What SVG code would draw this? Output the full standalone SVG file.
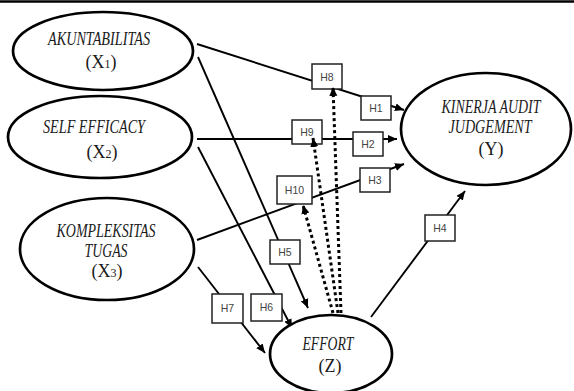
<svg xmlns="http://www.w3.org/2000/svg" width="574" height="391" viewBox="0 0 574 391">
<defs>
<style>
.node ellipse{fill:#fff;stroke:#000;stroke-width:2.7}
.nt{font-family:"Liberation Serif","Times New Roman",serif;font-style:italic;font-size:18px;fill:#1a1a1a;text-anchor:middle}
.nv{font-family:"Liberation Serif","Times New Roman",serif;font-size:18px;fill:#1a1a1a;text-anchor:middle}
.sub{font-size:12px}
.c{stroke:#000;stroke-width:1.9;fill:none;marker-end:url(#ah)}
.d{stroke:#000;stroke-width:3;stroke-dasharray:3 3;fill:none;marker-end:url(#ah)}
.lb rect{fill:#fff;stroke:#222;stroke-width:1.5}
.lb text{font-family:"Liberation Sans",Arial,sans-serif;font-size:10.5px;fill:#444;text-anchor:middle}
</style>
<marker id="ah" markerUnits="userSpaceOnUse" markerWidth="10" markerHeight="9" refX="9" refY="4" orient="auto">
<polygon points="0,0 9,4 0,8" fill="#000"/>
</marker>
</defs>
<rect x="0" y="0" width="574" height="391" fill="#fff"/>
<line x1="0" y1="1.5" x2="574" y2="1.5" stroke="#000" stroke-width="2.5"/>

<g id="connectors">
<line class="c" x1="197" y1="44" x2="404" y2="110"/>
<line class="c" x1="197" y1="139" x2="397" y2="139"/>
<line class="c" x1="197" y1="240" x2="404" y2="164"/>
<line class="c" x1="198" y1="57" x2="308" y2="308"/>
<line class="c" x1="198" y1="147" x2="292" y2="328"/>
<line class="c" x1="198" y1="267" x2="265" y2="353"/>
<line class="c" x1="371" y1="317" x2="465" y2="191"/>
</g>

<g id="labels" class="lb">
<g id="h8"><rect x="312" y="64" width="30" height="25"/><text x="327" y="81">H8</text></g>
<g id="h1"><rect x="361" y="96" width="30" height="24"/><text x="376" y="112">H1</text></g>
<g id="h9"><rect x="292" y="120" width="30" height="24"/><text x="307" y="136">H9</text></g>
<g id="h2"><rect x="353" y="132" width="30" height="24"/><text x="368" y="148">H2</text></g>
<g id="h3"><rect x="360" y="168" width="30" height="24"/><text x="375" y="184">H3</text></g>
<g id="h10"><rect x="277" y="176" width="35" height="28"/><text x="294.5" y="194">H10</text></g>
<g id="h5"><rect x="270" y="240" width="30" height="24"/><text x="285" y="256">H5</text></g>
<g id="h7"><rect x="212" y="294" width="31" height="29"/><text x="227.5" y="312">H7</text></g>
<g id="h6"><rect x="251" y="294" width="31" height="27"/><text x="266.5" y="311">H6</text></g>
<g id="h4"><rect x="425" y="215" width="30" height="26"/><text x="440" y="232">H4</text></g>
</g>

<g id="connectors-moderation">
<line class="d" x1="341" y1="313" x2="333" y2="87"/>
<line class="d" x1="338" y1="313" x2="313" y2="138"/>
<line class="d" x1="333" y1="313" x2="303" y2="205"/>
</g>

<g id="x1" class="node">
<ellipse cx="103" cy="51" rx="90" ry="39"/>
<text class="nt" x="99" y="45" textLength="102" lengthAdjust="spacingAndGlyphs">AKUNTABILITAS</text>
<text class="nv" x="101" y="68">(X<tspan class="sub">1</tspan>)</text>
</g>
<g id="x2" class="node">
<ellipse cx="100" cy="137" rx="92" ry="41"/>
<text class="nt" x="94" y="133" textLength="102" lengthAdjust="spacingAndGlyphs">SELF EFFICACY</text>
<text class="nv" x="102" y="158">(X<tspan class="sub">2</tspan>)</text>
</g>
<g id="x3" class="node">
<ellipse cx="107" cy="249" rx="87" ry="51"/>
<text class="nt" x="106" y="237" textLength="99" lengthAdjust="spacingAndGlyphs">KOMPLEKSITAS</text>
<text class="nt" x="106" y="257" textLength="43" lengthAdjust="spacingAndGlyphs">TUGAS</text>
<text class="nv" x="107" y="277">(X<tspan class="sub">3</tspan>)</text>
</g>
<g id="y" class="node">
<ellipse cx="486" cy="129" rx="85" ry="56"/>
<text class="nt" x="491" y="113" textLength="99" lengthAdjust="spacingAndGlyphs">KINERJA AUDIT</text>
<text class="nt" x="490" y="133" textLength="83" lengthAdjust="spacingAndGlyphs">JUDGEMENT</text>
<text class="nv" x="491" y="155">(Y)</text>
</g>
<g id="z" class="node">
<ellipse cx="331" cy="354" rx="61" ry="39"/>
<text class="nt" x="328" y="350" textLength="51" lengthAdjust="spacingAndGlyphs">EFFORT</text>
<text class="nv" x="330" y="372">(Z)</text>
</g>
</svg>
